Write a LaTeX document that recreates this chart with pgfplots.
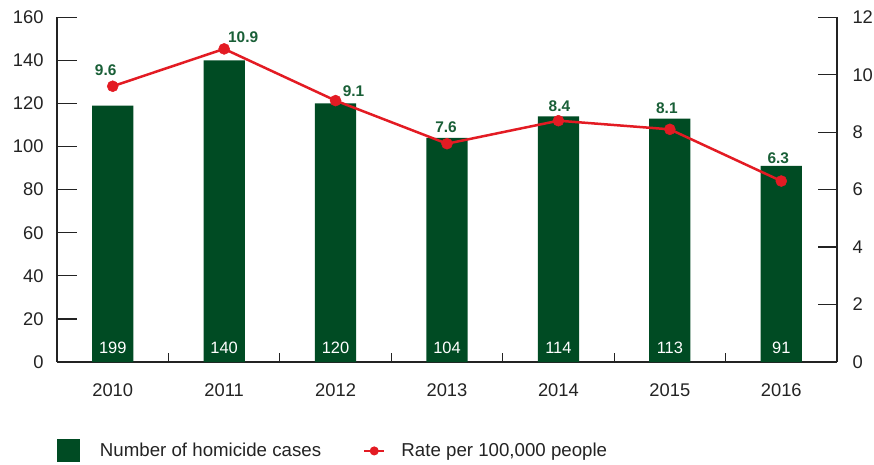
\documentclass[border=0pt]{standalone}
\usepackage{fontspec}
\setmainfont{Liberation Sans}
\usepackage{pgfplots}
\pgfplotsset{compat=1.18}
\definecolor{bargreen}{RGB}{0,75,35}
\definecolor{labgreen}{RGB}{25,95,55}
\definecolor{linered}{RGB}{227,27,35}
\definecolor{axgray}{RGB}{35,35,35}
\begin{document}
\begin{tikzpicture}
\useasboundingbox (-57bp,-103bp) rectangle (817bp,362bp);
\begin{axis}[
  at={(0,0)}, anchor=south west,
  scale only axis, width=780bp, height=344.7bp,
  xmin=-0.5, xmax=6.5, ymin=0, ymax=160,
  axis x line*=bottom, axis y line*=left,
  axis line style={axgray, line width=1.2bp, -},
  xtick={0,1,2,3,4,5,6},
  xticklabels={2010,2011,2012,2013,2014,2015,2016},
  major x tick style={draw=none},
  minor xtick={0.5,1.5,2.5,3.5,4.5,5.5},
  minor tick length=9bp,
  major tick length=20bp,
  xtick align=inside, ytick align=inside,
  tick style={axgray, line width=1.2bp},
  ytick={0,20,...,160},
  tick label style={font=\fontsize{18.4}{20}\selectfont, text=axgray},
  /pgf/number format/assume math mode=true,
  yticklabel style={xshift=-10bp},
  xticklabel style={yshift=-18bp},
  bar width=0.37,
  legend style={at={(axis description cs:0,-0.258)}, anchor=west, draw=none, fill=none,
    inner sep=0pt, outer sep=0pt, nodes={inner sep=0pt},
    font=\fontsize{18.75}{20}\selectfont, text=axgray,
    /tikz/column sep=20bp},
  legend cell align=left,
]
\addplot[ybar, fill=bargreen, draw=none,
  legend image code/.code={\fill[bargreen] (0bp,-11.5bp) rectangle (23bp,11.5bp);}]
  coordinates {(0,119) (1,140) (2,120) (3,104) (4,114) (5,113) (6,91)};
\addlegendentry{Number of homicide cases}
\addplot[forget plot, draw=none, mark=none, nodes near coords, point meta=explicit symbolic,
  nodes near coords style={anchor=south, inner sep=0pt, yshift=8bp, text=white,
    font=\fontsize{16.5}{18}\selectfont}]
  table[meta=lab] {
x y lab
0 0 199
1 0 140
2 0 120
3 0 104
4 0 114
5 0 113
6 0 91
};
\end{axis}
\begin{axis}[
  at={(0,0)}, anchor=south west,
  scale only axis, width=780bp, height=344.7bp,
  xmin=-0.5, xmax=6.5, ymin=0, ymax=12,
  axis x line=none, axis y line*=right,
  axis line style={axgray, line width=1.2bp, -},
  ytick={0,2,...,12},
  major tick length=19bp,
  ytick align=inside,
  tick style={axgray, line width=1.2bp},
  tick label style={font=\fontsize{18.4}{20}\selectfont, text=axgray},
  /pgf/number format/assume math mode=true,
  yticklabel style={xshift=12bp},
  clip=false,
  legend style={at={(axis description cs:0.3923,-0.258)}, anchor=west, draw=none, fill=none,
    inner sep=0pt, outer sep=0pt, nodes={inner sep=0pt},
    font=\fontsize{18.75}{20}\selectfont, text=axgray,
    /tikz/column sep=16bp},
  legend cell align=left,
]
\addplot[linered, line width=2.5bp, mark=*, mark size=5.5bp,
  mark options={solid, fill=linered, line width=0.5bp},
  nodes near coords, point meta=explicit symbolic,
  visualization depends on={\thisrow{dx} \as \dx},
  visualization depends on={\thisrow{dy} \as \dy},
  nodes near coords style={anchor=south, inner sep=0pt, xshift=\dx bp, yshift=\dy bp,
    text=labgreen, font=\bfseries\fontsize{15.5}{18}\selectfont},
  legend image code/.code={\draw[linered, line width=2.5bp] (0bp,0bp) -- (20bp,0bp);
    \fill[linered] (10bp,0bp) circle (3.2bp);}]
  table[meta=lab] {
x y lab dx dy
0 9.6 9.6 -7 10
1 10.9 10.9 19 6
2 9.1 9.1 18 3.6
3 7.6 7.6 -1 11
4 8.4 8.4 1 9
5 8.1 8.1 -3 15
6 6.3 6.3 -3 17
};
\addlegendentry{Rate per 100,000 people}
\end{axis}
\end{tikzpicture}
\end{document}
